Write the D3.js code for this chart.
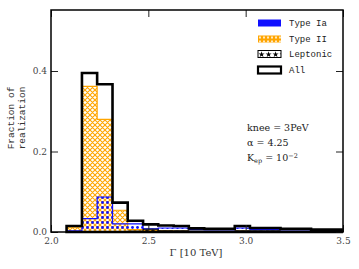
<!DOCTYPE html>
<html><head><meta charset="utf-8">
<script src="https://cdn.jsdelivr.net/npm/d3@7"></script>
<style>
html,body{margin:0;padding:0;background:#fff;}
svg{display:block;}
</style></head>
<body>
<script>
// ---- data ----
const binEdges = [2.08, 2.159, 2.237, 2.316, 2.394, 2.473, 2.551, 2.63, 2.708, 2.787, 2.865, 2.944, 3.022, 3.101, 3.179, 3.258, 3.336, 3.415, 3.493];
const typeIa   = [0.003, 0.033, 0.087, 0.020, 0.020, 0.008, 0.010, 0.010, 0.006, 0.005, 0.005, 0.010, 0.006, 0.006, 0.005, 0.005, 0.003, 0.003];
const typeII   = [0.012, 0.362, 0.280, 0.054, 0.006, 0.004, 0.003, 0.002, 0.001, 0.001, 0.001, 0.002, 0.001, 0.001, 0.001, 0.001, 0.000, 0.000];
const leptonic = [0.000, 0.000, 0.000, 0.000, 0.002, 0.007, 0.003, 0.003, 0.002, 0.002, 0.002, 0.003, 0.003, 0.003, 0.002, 0.002, 0.003, 0.003];
const allVals  = [0.015, 0.395, 0.367, 0.073, 0.028, 0.019, 0.016, 0.015, 0.009, 0.008, 0.008, 0.015, 0.010, 0.010, 0.008, 0.008, 0.006, 0.006];
const xTicks = [2.0, 2.5, 3.0, 3.5];
const xTickLabels = ["2.0", "2.5", "3.0", "3.5"];
const yTicks = [0.0, 0.2, 0.4];
const yTickLabels = ["0.0", "0.2", "0.4"];
const legendLabels = ["Type Ia", "Type II", "Leptonic", "All"];
const annotations = ["knee = 3PeV", "α = 4.25", "K_ep = 10^-2"];

// ---- layout ----
const W = 359, H = 269;
const L = 51, R = 343, T = 10, B = 232;
const x = d3.scaleLinear().domain([2.0, 3.5]).range([L, R]);
const y = d3.scaleLinear().domain([0, 0.5516]).range([B, T]);

const svg = d3.select("body").append("svg").attr("width", W).attr("height", H);
const defs = svg.append("defs");

// patterns
const pII = defs.append("pattern").attr("id", "hII").attr("patternUnits", "userSpaceOnUse")
  .attr("width", 5).attr("height", 5);
pII.append("path").attr("d", "M0,0L5,5M5,0L0,5M-1,4L1,6M4,-1L6,1M-1,1L1,-1M4,6L6,4")
  .attr("stroke", "#ffa500").attr("stroke-width", 1.1).attr("fill", "none");

const pIa = defs.append("pattern").attr("id", "hIa").attr("patternUnits", "userSpaceOnUse")
  .attr("width", 5).attr("height", 5);
pIa.append("circle").attr("cx", 2.5).attr("cy", 2.5).attr("r", 1.4).attr("fill", "#1010ff");

const pL = defs.append("pattern").attr("id", "hL").attr("patternUnits", "userSpaceOnUse")
  .attr("width", 6).attr("height", 6);
pL.append("text").attr("x", 3).attr("y", 5).attr("text-anchor", "middle")
  .attr("font-size", 6).attr("font-family", "DejaVu Sans").attr("fill", "#000").text("★");

const pLleg = defs.append("pattern").attr("id", "hLleg").attr("patternUnits", "userSpaceOnUse")
  .attr("width", 7).attr("height", 8).attr("x", 258).attr("y", 50);
pLleg.append("text").attr("x", 3.5).attr("y", 7).attr("text-anchor", "middle")
  .attr("font-size", 8).attr("font-family", "DejaVu Sans").attr("fill", "#000").text("★");

const pIIleg = defs.append("pattern").attr("id", "hIIleg").attr("patternUnits", "userSpaceOnUse")
  .attr("width", 4).attr("height", 4).attr("x", 258).attr("y", 35.5);
pIIleg.append("circle").attr("cx", 2).attr("cy", 2).attr("r", 1).attr("fill", "#fff");

function stepPath(vals) {
  let d = `M${x(binEdges[0])},${y(0)}`;
  vals.forEach((v, i) => {
    d += `L${x(binEdges[i])},${y(v)}L${x(binEdges[i + 1])},${y(v)}`;
  });
  d += `L${x(binEdges[vals.length])},${y(0)}Z`;
  return d;
}

const plot = svg.append("g");
plot.append("path").attr("d", stepPath(typeII)).attr("fill", "url(#hII)")
  .attr("stroke", "#ffa500").attr("stroke-width", 1.2);
plot.append("path").attr("d", stepPath(typeIa)).attr("fill", "url(#hIa)")
  .attr("stroke", "#1010ff").attr("stroke-width", 1.2);
plot.append("path").attr("d", stepPath(leptonic)).attr("fill", "url(#hL)")
  .attr("stroke", "#000").attr("stroke-width", 1);
plot.append("path").attr("d", stepPath(allVals)).attr("fill", "none")
  .attr("stroke", "#000").attr("stroke-width", 2.6).attr("stroke-linejoin", "miter");

// axes (inward ticks on all sides)
const tickCol = "#222";
const gB = svg.append("g").attr("transform", `translate(0,${B})`)
  .call(d3.axisBottom(x).tickValues(xTicks).tickFormat((d, i) => xTickLabels[i]).tickSizeInner(-7).tickSizeOuter(0).tickPadding(4));
const gT = svg.append("g").attr("transform", `translate(0,${T})`)
  .call(d3.axisTop(x).tickValues(xTicks).tickFormat("").tickSizeInner(-7).tickSizeOuter(0));
const gL = svg.append("g").attr("transform", `translate(${L},0)`)
  .call(d3.axisLeft(y).tickValues(yTicks).tickFormat((d, i) => yTickLabels[i]).tickSizeInner(-7).tickSizeOuter(0).tickPadding(4));
const gR = svg.append("g").attr("transform", `translate(${R},0)`)
  .call(d3.axisRight(y).tickValues(yTicks).tickFormat("").tickSizeInner(-7).tickSizeOuter(0));
[gB, gT, gL, gR].forEach(g => {
  g.select(".domain").remove();
  g.selectAll(".tick line").attr("stroke", tickCol).attr("stroke-width", 1);
  g.selectAll(".tick text").attr("font-family", "DejaVu Serif, Liberation Serif, serif")
    .attr("font-size", 9).attr("fill", "#444");
});
gB.selectAll(".tick text").attr("dy", "0.9em");

svg.append("rect").attr("x", L).attr("y", T).attr("width", R - L).attr("height", B - T)
  .attr("fill", "none").attr("stroke", "#000").attr("stroke-width", 1.5);

// axis labels
svg.append("text").attr("x", 196).attr("y", 256).attr("text-anchor", "middle")
  .attr("font-family", "DejaVu Serif, Liberation Serif, serif").attr("font-size", 10).attr("fill", "#333")
  .text("Γ [10 TeV]");
const yl = svg.append("text").attr("transform", "translate(14,118) rotate(-90)")
  .attr("text-anchor", "middle").attr("font-family", "Liberation Mono, DejaVu Sans Mono, monospace")
  .attr("font-size", 9.5).attr("fill", "#333");
yl.append("tspan").attr("x", 0).attr("dy", 0).text("Fraction of");
yl.append("tspan").attr("x", 0).attr("dy", 10.5).text("realization");

// legend
const legX = 258, legY = [23, 39, 54, 70];
const lg = svg.append("g");
lg.append("rect").attr("x", legX).attr("y", legY[0] - 3.5).attr("width", 23).attr("height", 7).attr("fill", "#1010ff");
lg.append("rect").attr("x", legX).attr("y", legY[1] - 3.5).attr("width", 23).attr("height", 7).attr("fill", "#ffa500");
lg.append("rect").attr("x", legX).attr("y", legY[1] - 3.5).attr("width", 23).attr("height", 7).attr("fill", "url(#hIIleg)");
lg.append("rect").attr("x", legX).attr("y", legY[2] - 3.5).attr("width", 23).attr("height", 7).attr("fill", "url(#hLleg)")
  .attr("stroke", "#000").attr("stroke-width", 1);
lg.append("rect").attr("x", legX).attr("y", legY[3] - 3.5).attr("width", 23).attr("height", 7).attr("fill", "#fff")
  .attr("stroke", "#000").attr("stroke-width", 2.2);
legendLabels.forEach((t, i) => {
  lg.append("text").attr("x", 289).attr("y", legY[i]).attr("dy", "0.35em")
    .attr("font-family", "Liberation Mono, DejaVu Sans Mono, monospace").attr("font-size", 9)
    .attr("fill", "#222").text(t);
});

// annotations
const ann = svg.append("g").attr("font-family", "DejaVu Serif, Liberation Serif, serif")
  .attr("font-size", 9.5).attr("fill", "#222");
ann.append("text").attr("x", 247).attr("y", 128).attr("dy", "0.35em").text(annotations[0]);
ann.append("text").attr("x", 247).attr("y", 143).attr("dy", "0.35em").text(annotations[1]);
const k = ann.append("text").attr("x", 247).attr("y", 158).attr("dy", "0.35em");
const kp = annotations[2].split(/[_^]/);
k.append("tspan").text(kp[0]);
k.append("tspan").attr("font-size", 6.5).attr("dy", 2).text(kp[1].split(" ")[0]);
k.append("tspan").attr("dy", -2).text(" = " + kp[1].split("= ")[1]);
k.append("tspan").attr("font-size", 6.5).attr("dy", -3.5).text("−" + kp[2].replace("-", ""));
</script>
</body></html>
